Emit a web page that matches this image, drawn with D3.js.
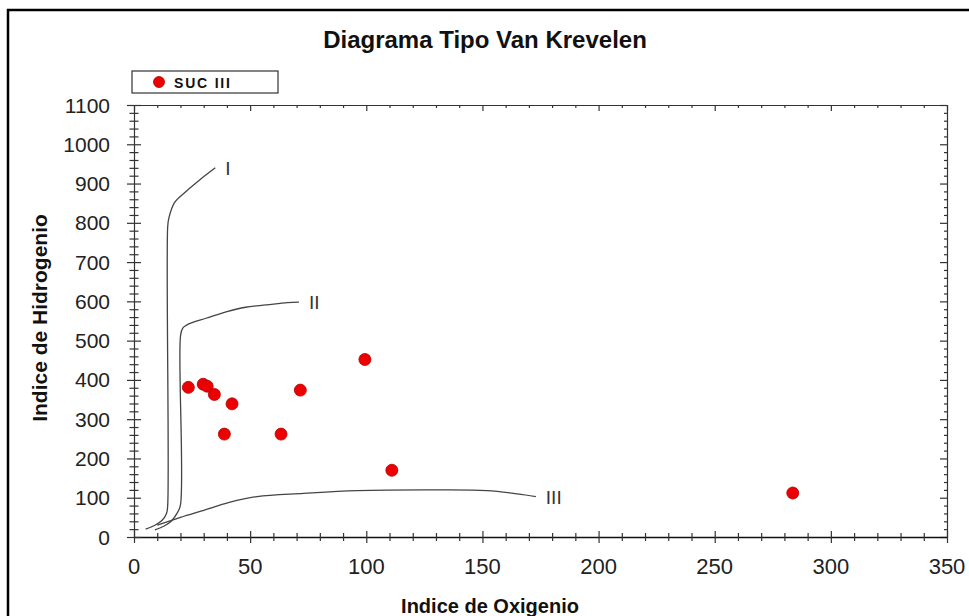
<!DOCTYPE html>
<html>
<head>
<meta charset="utf-8">
<script src="https://cdn.jsdelivr.net/npm/d3@7"></script>
<style>
  html, body { margin: 0; padding: 0; background: #fff; }
  svg { display: block; font-family: "Liberation Sans", Arial, sans-serif; }
</style>
</head>
<body>
<svg id="chart" width="969" height="616"></svg>
<script>
// Van Krevelen type diagram: hydrogen index vs oxygen index
const chartTitle = "Diagrama Tipo Van Krevelen";
const xTitle = "Indice de Oxigenio";
const yTitle = "Indice de Hidrogenio";
const seriesName = "SUC III";

// Samples (oxygen index, hydrogen index)
const oxygenIndex   = [23.4, 29.8, 31.5, 34.6, 42.2, 38.9, 63.3, 71.6, 99.4, 111, 283.6];
const hydrogenIndex = [381, 389, 384, 363, 339, 262, 262, 374, 452, 170, 112];

// Kerogen type evolution paths
const curveI = [[5, 20], [9, 30], [12, 42], [14, 60], [14.5, 80], [14.5, 790], [15, 812], [17.5, 852], [22, 878], [28, 908], [35, 940]];
const curveII = [[9, 18], [13, 28], [16, 40], [18.5, 60], [20, 82], [20, 510], [21, 532], [25, 546], [31, 557], [40, 574], [48, 585], [57, 591], [66, 597], [71, 598]];
const curveIII = [[10, 30], [20, 50], [30, 68], [41, 88], [53, 103], [73, 111], [96, 118], [132, 120], [152, 118], [165, 110], [173, 103]];
const curveLabels = ["I", "II", "III"];

const xTicks = [0, 50, 100, 150, 200, 250, 300, 350];
const yTicks = [0, 100, 200, 300, 400, 500, 600, 700, 800, 900, 1000, 1100];

const svg = d3.select("#chart");

const x = d3.scaleLinear().domain([0, 350]).range([134, 947]);
const y = d3.scaleLinear().domain([0, 1100]).range([537, 105]);

// outer frame
svg.append("rect")
  .attr("x", 8).attr("y", 10).attr("width", 1000).attr("height", 700)
  .attr("fill", "#fff").attr("stroke", "#000").attr("stroke-width", 2.5);

// title
svg.append("text")
  .attr("x", 485).attr("y", 48)
  .attr("text-anchor", "middle")
  .attr("font-size", 24).attr("font-weight", "bold").attr("fill", "#111")
  .text(chartTitle);

const xMinor = d3.range(0, 351, 10);
const yMinor = d3.range(0, 1101, 20);
const axisColor = "#333";

// top and right borders with inward ticks
const topAxis = d3.axisTop(x).tickValues(xMinor).tickSizeInner(-3).tickSizeOuter(0).tickFormat("");
const gTop = svg.append("g").attr("transform", `translate(0,${y(1100)})`).call(topAxis);
gTop.selectAll(".tick line").attr("y2", d => (d % 50 === 0 ? 6 : 3));

const rightAxis = d3.axisRight(y).tickValues(yMinor).tickSizeInner(-3).tickSizeOuter(0).tickFormat("");
const gRight = svg.append("g").attr("transform", `translate(${x(350)},0)`).call(rightAxis);
gRight.selectAll(".tick line").attr("x2", d => (d % 100 === 0 ? -7 : -3));

// bottom axis: ticks cross the axis line
const bottomAxis = d3.axisBottom(x).tickValues(xMinor).tickSizeOuter(0).tickFormat("");
const gBottom = svg.append("g").attr("transform", `translate(0,${y(0)})`).call(bottomAxis);
gBottom.selectAll(".tick line")
  .attr("y1", d => (d % 50 === 0 ? -6 : -4))
  .attr("y2", d => (d % 50 === 0 ? 6 : 4));

// left axis: ticks cross the axis line
const leftAxis = d3.axisLeft(y).tickValues(yMinor).tickSizeOuter(0).tickFormat("");
const gLeft = svg.append("g").attr("transform", `translate(${x(0)},0)`).call(leftAxis);
gLeft.selectAll(".tick line")
  .attr("x1", d => (d % 100 === 0 ? -7 : -4.5))
  .attr("x2", d => (d % 100 === 0 ? 7 : 4.5));

[gTop, gRight, gBottom, gLeft].forEach(g => {
  g.selectAll("path.domain").attr("stroke", axisColor).attr("stroke-width", 1.2);
  g.selectAll(".tick line").attr("stroke", axisColor).attr("stroke-width", 1.2);
});
gBottom.selectAll("path.domain").attr("stroke", "#111").attr("stroke-width", 1.6);

// tick labels
svg.append("g").selectAll("text").data(xTicks).join("text")
  .attr("x", d => x(d)).attr("y", 574)
  .attr("text-anchor", "middle")
  .attr("font-size", 22).attr("fill", "#222")
  .text(d => d);

svg.append("g").selectAll("text").data(yTicks).join("text")
  .attr("x", 110).attr("y", d => y(d) + 7.5)
  .attr("text-anchor", "end")
  .attr("font-size", 21).attr("fill", "#222")
  .text(d => d);

// axis titles
svg.append("text")
  .attr("x", 490).attr("y", 613)
  .attr("text-anchor", "middle")
  .attr("font-size", 20).attr("font-weight", "bold").attr("fill", "#111")
  .text(xTitle);

svg.append("text")
  .attr("transform", `translate(47,318) rotate(-90)`)
  .attr("text-anchor", "middle")
  .attr("font-size", 21).attr("font-weight", "bold").attr("fill", "#111")
  .text(yTitle);

// evolution paths
const line = d3.line()
  .x(d => x(d[0])).y(d => y(d[1]))
  .curve(d3.curveCatmullRom.alpha(0.5));

const curves = [curveI, curveII, curveIII];
svg.append("g").selectAll("path").data(curves).join("path")
  .attr("d", line)
  .attr("fill", "none").attr("stroke", "#444").attr("stroke-width", 1.3);

svg.append("g").selectAll("text").data(curves).join("text")
  .attr("x", d => x(d[d.length - 1][0]) + 10)
  .attr("y", d => y(d[d.length - 1][1]) + 7)
  .attr("font-size", 19).attr("fill", "#333")
  .text((d, i) => curveLabels[i]);

// samples
const samples = oxygenIndex.map((o, i) => ({ o, h: hydrogenIndex[i] }));
svg.append("g").selectAll("circle").data(samples).join("circle")
  .attr("cx", d => x(d.o)).attr("cy", d => y(d.h))
  .attr("r", 6)
  .attr("fill", "#ec0000").attr("stroke", "#b30000").attr("stroke-width", 0.8);

// legend
const legend = svg.append("g");
legend.append("rect")
  .attr("x", 132).attr("y", 71).attr("width", 146).attr("height", 22)
  .attr("fill", "#fff").attr("stroke", "#333").attr("stroke-width", 1.2);
legend.append("circle")
  .attr("cx", 159).attr("cy", 82).attr("r", 5.5)
  .attr("fill", "#ec0000").attr("stroke", "#b30000").attr("stroke-width", 0.8);
legend.append("text")
  .attr("x", 174).attr("y", 87.5)
  .attr("font-size", 14).attr("font-weight", "bold").attr("letter-spacing", 1.8).attr("fill", "#111")
  .text(seriesName);
</script>
</body>
</html>
